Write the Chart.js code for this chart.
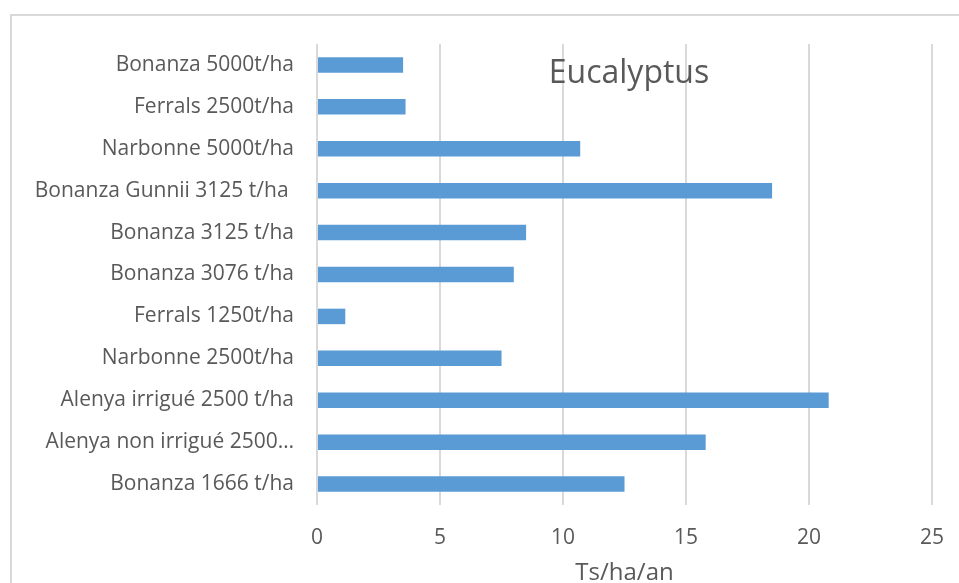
<!DOCTYPE html>
<html>
<head>
<meta charset="utf-8">
<script src="https://cdn.jsdelivr.net/npm/chart.js@4/dist/chart.umd.min.js"></script>
<style>
html,body{margin:0;padding:0;background:#fff;overflow:hidden}
#frame{position:absolute;left:10px;top:14px;width:1000px;height:620px;border:2px solid #d9d9d9;box-sizing:border-box}
#c{position:absolute;left:0;top:0}
</style>
</head>
<body>
<div id="frame"></div>
<canvas id="c" width="959" height="583"></canvas>
<script>
const labels=["Bonanza 5000t/ha","Ferrals 2500t/ha","Narbonne 5000t/ha","Bonanza Gunnii 3125 t/ha ","Bonanza 3125 t/ha","Bonanza 3076 t/ha","Ferrals 1250t/ha","Narbonne 2500t/ha","Alenya irrigué 2500 t/ha","Alenya non irrigué 2500…","Bonanza 1666 t/ha"]
const values=[3.5,3.6,10.7,18.5,8.5,8.0,1.15,7.5,20.8,15.8,12.5]
const title="Eucalyptus"
const axisTitle="Ts/ha/an"
const font="'Open Sans', 'Noto Sans', sans-serif"
const grey="#595959"

const titleInside={
  id:"titleInside",
  afterDraw(ch){
    const c=ch.ctx
    c.save()
    c.font="32px "+font
    c.fillStyle=grey
    c.textAlign="center"
    c.textBaseline="middle"
    c.fillText(title,629,74)
    c.restore()
  }
}

new Chart(document.getElementById("c"),{
  type:"bar",
  data:{labels,datasets:[{data:values,backgroundColor:"#5b9bd5",borderWidth:0,categoryPercentage:1,barPercentage:0.37}]},
  options:{
    indexAxis:"y",
    responsive:false,
    animation:false,
    layout:{padding:{top:44,right:27,left:0,bottom:0}},
    plugins:{legend:{display:false},title:{display:false},tooltip:{enabled:false}},
    scales:{
      x:{
        min:0,max:25,
        ticks:{stepSize:5,color:grey,font:{family:font,size:21},padding:20},
        grid:{color:"#d9d9d9",lineWidth:2,drawTicks:false},
        border:{display:false},
        title:{display:true,text:axisTitle,color:grey,font:{family:font,size:24},padding:{top:0,bottom:-5}},
        afterFit(s){s.height=78;s.paddingLeft=0;s.paddingRight=0}
      },
      y:{
        ticks:{color:grey,font:{family:font,size:21},padding:15},
        grid:{display:false},
        border:{display:false},
        afterFit(s){s.width=317}
      }
    }
  },
  plugins:[titleInside]
})
</script>
</body>
</html>
